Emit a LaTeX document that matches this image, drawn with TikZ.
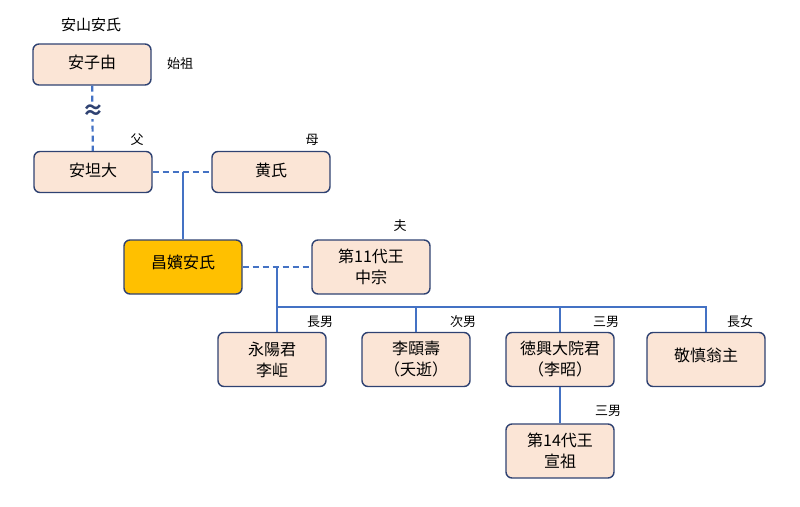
\documentclass[tikz,border=0pt]{standalone}
\usepackage{fontspec}
\setmainfont{Noto Sans CJK JP}
\begin{document}
\begin{tikzpicture}[x=1pt,y=-1pt,
 box/.style={draw=bord,line width=1.4pt,rounded corners=6pt,fill=boxf,minimum width=118pt,minimum height=41pt,align=center,font=\fontsize{16}{21}\selectfont,inner sep=1pt},
 kbox/.style={box,minimum height=54pt},
 lab/.style={font=\fontsize{13}{15}\selectfont},
 ln/.style={draw=lnc,line width=2.2pt},
 dl/.style={ln,dashed,dash pattern=on 6pt off 4pt}]
\definecolor{bord}{HTML}{2F4272}\definecolor{boxf}{HTML}{FBE5D6}\definecolor{lnc}{HTML}{4472C4}\definecolor{gold}{HTML}{FFC000}
\useasboundingbox (0,0) rectangle (800,506);
\node[box] (a) at (92,64.5) {\raisebox{5pt}{安子由}};
\node[box] (b) at (93,172) {\raisebox{5pt}{安坦大}};
\node[box] (c) at (271,172) {\raisebox{5pt}{黄氏}};
\node[kbox,fill=gold] (d) at (183,267) {\raisebox{10pt}{昌嬪安氏}};
\node[kbox] (e) at (371,267) {第11代王\\中宗};
\node[kbox,minimum width=108pt] (k1) at (272,359.5) {永陽君\\李岠};
\node[kbox,minimum width=108pt] (k2) at (416,359.5) {李頤壽\\（夭逝）};
\node[kbox,minimum width=108pt] (k3) at (560,359.5) {徳興大院君\\（李昭）};
\node[kbox] (k4) at (706,359.5) {\raisebox{10pt}{敬慎翁主}};
\node[kbox,minimum width=108pt] (g) at (560,451) {第14代王\\宣祖};
\node[lab,font=\fontsize{15}{17}\selectfont] (t0) at (91,25) {安山安氏};
\node[lab] (t1) at (180,64) {始祖};
\node[lab] (t2) at (137,140) {父};
\node[lab] (t3) at (312,140) {母};
\node[lab] (t4) at (400,226) {夫};
\node[lab] (t5) at (320,322) {長男};
\node[lab] (t6) at (463,322) {次男};
\node[lab] (t7) at (606,322) {三男};
\node[lab] (t8) at (740,322) {長女};
\node[lab] (t9) at (608,411) {三男};
\draw[dl] (a) -- (b);
\node[fill=white,inner sep=0pt,font=\fontsize{22}{22}\selectfont\bfseries,text=bord] (wv) at (93,112) {≈};
\draw[dl] (b) -- (c);
\coordinate (m1) at (183,172);
\draw[ln] (m1) -- (d);
\draw[dl] (d) -- (e);
\coordinate (m2) at (277,267);
\coordinate (bus) at (277,307);
\draw[ln] (m2) -- (bus) -- (k1.north -| bus);
\draw[ln] (bus) -- (706,307) -- (k4.north);
\draw[ln] (k2.north |- bus) -- (k2.north);
\draw[ln] (k3.north |- bus) -- (k3.north);
\draw[ln] (k3) -- (g);
\end{tikzpicture}
\end{document}
